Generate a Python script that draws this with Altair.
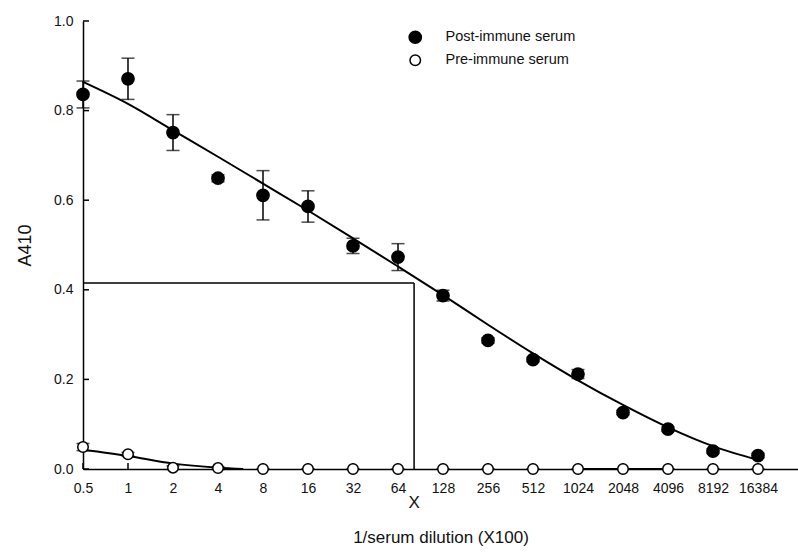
import json
import altair as alt
import pandas as pd

# ---- data ----
dilutions = [0.5, 1, 2, 4, 8, 16, 32, 64, 128, 256, 512, 1024, 2048, 4096, 8192, 16384]
tick_labels = ["0.5", "1", "2", "4", "8", "16", "32", "64", "128", "256",
               "512", "1024", "2048", "4096", "8192", "16384"]
post_mean = [0.836, 0.871, 0.751, 0.649, 0.611, 0.586, 0.498, 0.473,
             0.387, 0.287, 0.244, 0.212, 0.126, 0.089, 0.040, 0.030]
post_err = [0.030, 0.046, 0.040, 0.008, 0.055, 0.035, 0.017, 0.030,
            0.012, 0.006, 0.005, 0.010, 0.005, 0.005, 0.005, 0.005]
pre_mean = [0.049, 0.033, 0.003, 0.002, 0.0, 0.0, 0.0, 0.0,
            0.0, 0.0, 0.0, 0.0, 0.0, 0.0, 0.0, 0.0]
pre_err = [0.008, 0.004, 0.004, 0.003, 0.0, 0.0, 0.0, 0.0,
           0.0, 0.0, 0.0, 0.0, 0.0, 0.0, 0.0, 0.0]
post_fit = [0.864, 0.815, 0.756, 0.697, 0.637, 0.577, 0.515, 0.452,
            0.388, 0.322, 0.258, 0.198, 0.143, 0.093, 0.051, 0.020]
pre_fit_x = [0.5, 1, 2, 4, 5.9]
pre_fit_y = [0.043, 0.029, 0.012, 0.003, 0.0]
pre_fit2_x = [1024, 4096]
pre_fit2_y = [0.0, 0.0]
y_ticks = [0.0, 0.2, 0.4, 0.6, 0.8, 1.0]
cutoff_dilution = 82
cutoff_a410 = 0.415
series_names = ["Post-immune serum", "Pre-immune serum"]

FONT = "Liberation Sans"
W, H = 715, 448

pts = pd.DataFrame({
    "d": dilutions * 2,
    "a": post_mean + pre_mean,
    "lo": [m - e for m, e in zip(post_mean, post_err)] + [m - e for m, e in zip(pre_mean, pre_err)],
    "hi": [m + e for m, e in zip(post_mean, post_err)] + [m + e for m, e in zip(pre_mean, pre_err)],
    "series": [series_names[0]] * len(dilutions) + [series_names[1]] * len(dilutions),
})
fit = pd.DataFrame({
    "d": dilutions + pre_fit_x + pre_fit2_x,
    "a": post_fit + pre_fit_y + pre_fit2_y,
    "seg": ["post"] * len(dilutions) + ["pre"] * len(pre_fit_x) + ["pre2"] * len(pre_fit2_x),
})

xscale = alt.Scale(type="log", base=2, domain=[0.5, 30340], nice=False)
yscale = alt.Scale(domain=[0, 1], nice=False)

label_expr = f"{json.dumps(tick_labels)}[indexof({json.dumps(dilutions)}, datum.value)]"

xax = alt.Axis(values=dilutions, labelExpr=label_expr, title="1/serum dilution (X100)",
               ticks=False, labelPadding=12, titlePadding=34, labelFontSize=14,
               titleFontSize=17, labelFlush=False, labelOverlap=False)
yax = alt.Axis(values=y_ticks, format=".1f", title="A410", ticks=False,
               labelPadding=10, titlePadding=19, labelFontSize=14, titleFontSize=18)

base = alt.Chart(pts)

x_enc = alt.X("d:Q", scale=xscale, axis=xax)
y_enc = alt.Y("a:Q", scale=yscale, axis=yax)

fit_line = alt.Chart(fit).mark_line(color="black", strokeWidth=2, interpolate="monotone").encode(
    x=alt.X("d:Q", scale=xscale), y=alt.Y("a:Q", scale=yscale), detail="seg:N")

ref = pd.DataFrame({"d0": [0.5, cutoff_dilution], "d1": [cutoff_dilution, cutoff_dilution],
                    "a0": [cutoff_a410, 0.0], "a1": [cutoff_a410, cutoff_a410]})
ref_rules = alt.Chart(ref).mark_rule(color="black", strokeWidth=1.5).encode(
    x=alt.X("d0:Q", scale=xscale), x2="d1:Q",
    y=alt.Y("a0:Q", scale=yscale), y2="a1:Q")

err_rule = base.mark_rule(color="black", strokeWidth=1.5).encode(
    x=alt.X("d:Q", scale=xscale), y=alt.Y("lo:Q", scale=yscale), y2="hi:Q")
cap_lo = base.mark_tick(color="black", orient="horizontal", size=13, thickness=1.5).encode(
    x=alt.X("d:Q", scale=xscale), y=alt.Y("lo:Q", scale=yscale))
cap_hi = base.mark_tick(color="black", orient="horizontal", size=13, thickness=1.5).encode(
    x=alt.X("d:Q", scale=xscale), y=alt.Y("hi:Q", scale=yscale))

points = base.mark_circle(stroke="black", strokeWidth=1.5, opacity=1).encode(
    x=x_enc, y=y_enc,
    fill=alt.Fill("series:N", scale=alt.Scale(domain=series_names, range=["black", "white"]),
                  legend=alt.Legend(title=None, orient="none", legendX=325, legendY=9,
                                    labelFont=FONT, labelFontSize=14.5, labelColor="#111",
                                    labelOffset=23, rowPadding=5,
                                    symbolStrokeColor="black", symbolStrokeWidth=1.5)),
    size=alt.Size("series:N", scale=alt.Scale(domain=series_names, range=[150, 110]),
                  legend=alt.Legend(title=None, orient="none", legendX=325, legendY=9)),
)

yt = pd.DataFrame({"v": y_ticks})
ytick_rules = alt.Chart(yt).mark_rule(color="black", strokeWidth=1.5).encode(
    y=alt.Y("v:Q", scale=yscale), x=alt.value(0), x2=alt.value(6))
xt = pd.DataFrame({"v": dilutions})
xtick_rules = alt.Chart(xt).mark_rule(color="black", strokeWidth=1.5).encode(
    x=alt.X("v:Q", scale=xscale), y=alt.value(H), y2=alt.value(H - 6))

xlab = alt.Chart(pd.DataFrame({"d": [cutoff_dilution], "t": ["X"]})).mark_text(
    font=FONT, fontSize=17, color="#111", baseline="middle").encode(
    x=alt.X("d:Q", scale=xscale), y=alt.value(482), text="t:N")

chart = alt.layer(
    ref_rules, fit_line, err_rule, cap_lo, cap_hi, xtick_rules, ytick_rules, points, xlab
).properties(
    width=W, height=H,
    autosize=alt.AutoSizeParams(type="none"),
    padding={"left": 83, "top": 21, "right": 0, "bottom": 85},
    background="white",
).configure_view(stroke=None).configure_axis(
    grid=False, domainColor="black", domainWidth=1.5,
    labelFont=FONT, titleFont=FONT, labelColor="#111", titleColor="#111",
    titleFontWeight="normal",
).configure_legend(symbolType="circle")

chart.save("out.html", embed_options={"renderer": "svg", "actions": False})
